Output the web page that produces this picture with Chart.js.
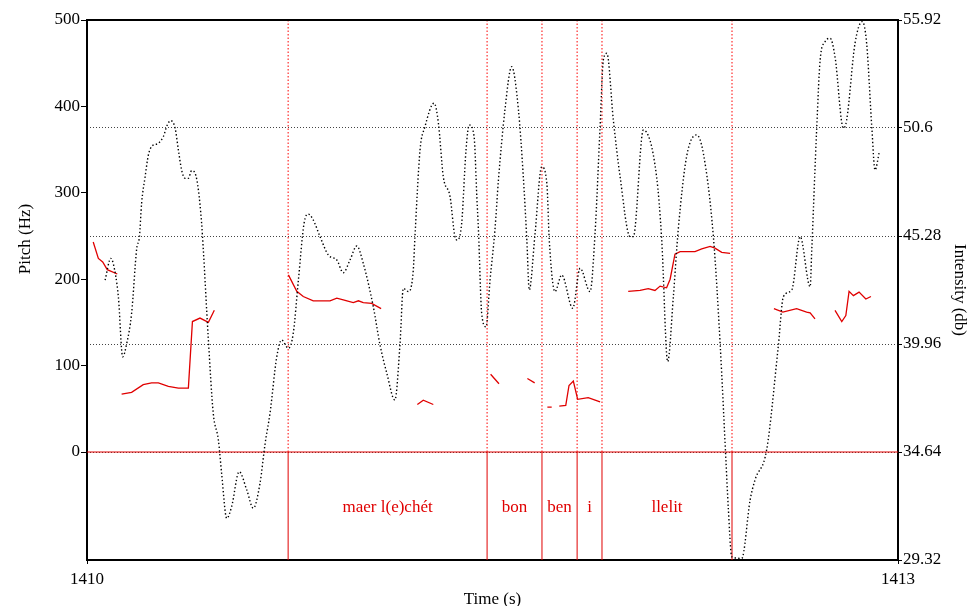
<!DOCTYPE html>
<html><head><meta charset="utf-8">
<script src="https://cdn.jsdelivr.net/npm/chart.js@4"></script>
<style>html,body{margin:0;padding:0;background:#fff}</style>
</head><body>
<canvas id="c" width="968" height="606"></canvas>
<script>
// ---------- data ----------
const timeMin = 1410, timeMax = 1413;
const timeTicks = [1410, 1413];
const pitchMin = -125, pitchMax = 500;
const pitchTicks = [0, 100, 200, 300, 400, 500];
const intensityMin = 29.32, intensityMax = 55.92;
const intensityTicks = [29.32, 34.64, 39.96, 45.28, 50.6, 55.92];

// intensity contour (s, dB)
const intensityTimes = [1410.067,1410.088,1410.097,1410.116,1410.132,1410.147,1410.165,1410.184,1410.194,1410.202,1410.215,1410.227,1410.239,1410.264,1410.282,1410.297,1410.310,1410.326,1410.338,1410.350,1410.363,1410.375,1410.387,1410.400,1410.412,1410.424,1410.430,1410.449,1410.467,1410.486,1410.498,1410.517,1410.535,1410.563,1410.591,1410.615,1410.640,1410.659,1410.677,1410.702,1410.720,1410.745,1410.763,1410.782,1410.803,1410.819,1410.837,1410.862,1410.893,1410.924,1410.948,1410.973,1410.998,1411.022,1411.059,1411.084,1411.109,1411.139,1411.158,1411.170,1411.189,1411.207,1411.213,1411.232,1411.250,1411.284,1411.300,1411.318,1411.343,1411.361,1411.370,1411.386,1411.402,1411.414,1411.432,1411.442,1411.448,1411.460,1411.476,1411.491,1411.509,1411.522,1411.546,1411.571,1411.596,1411.614,1411.627,1411.636,1411.657,1411.682,1411.701,1411.710,1411.731,1411.756,1411.797,1411.824,1411.861,1411.879,1411.898,1411.910,1411.923,1411.947,1411.972,1412.009,1412.021,1412.058,1412.107,1412.126,1412.148,1412.169,1412.187,1412.218,1412.255,1412.280,1412.317,1412.342,1412.364,1412.372,1412.385,1412.422,1412.453,1412.471,1412.514,1412.557,1412.576,1412.607,1412.638,1412.675,1412.681,1412.699,1412.712,1412.730,1412.749,1412.767,1412.798,1412.810,1412.841,1412.868,1412.884,1412.903,1412.915,1412.931];
const intensityDb = [43.11,44.18,43.93,42.29,39.33,39.99,41.47,44.67,45.25,46.89,48.20,49.27,49.68,49.85,50.17,50.75,50.96,50.59,49.52,48.53,48.12,48.12,48.50,48.37,47.55,45.91,44.67,40.16,36.55,35.23,33.59,31.37,31.95,33.67,32.77,31.87,33.10,35.07,36.55,39.33,40.16,39.75,40.49,43.11,45.91,46.36,46.07,45.25,44.34,44.10,43.47,44.10,44.79,43.93,41.80,39.91,38.52,37.20,39.99,42.70,42.54,43.60,45.21,49.52,50.66,51.82,50.83,48.20,47.22,45.25,45.08,45.91,49.52,50.75,50.17,47.22,45.58,41.47,40.81,43.11,45.58,48.04,51.49,53.62,51.49,48.20,45.08,42.62,45.33,48.69,47.88,45.08,42.54,43.36,41.72,43.69,42.54,45.33,50.66,53.95,54.28,50.99,48.20,45.25,45.25,50.50,48.20,45.08,39.09,42.29,45.58,49.19,50.26,49.35,45.25,39.99,34.08,31.95,29.48,29.40,32.28,33.26,34.74,39.83,42.29,42.62,45.25,42.78,44.59,50.50,53.95,54.85,55.02,54.11,50.59,50.99,54.77,55.84,54.77,50.66,48.53,49.43];

// pitch contour (s, Hz); null = unvoiced gap
const pitchTimes = [
 1410.023,1410.042,1410.058,1410.075,1410.112, null,
 1410.128,1410.165,1410.208,1410.239,1410.264,1410.301,1410.338,1410.375,1410.390,1410.418,1410.449,1410.471, null,
 1410.745,1410.776,1410.800,1410.837,1410.899,1410.924,1410.948,1410.985,1411.004,1411.022,1411.053,1411.088, null,
 1411.222,1411.244,1411.281, null,
 1411.493,1411.524, null,
 1411.629,1411.656, null,
 1411.703,1411.719, null,
 1411.747,1411.771,1411.783,1411.799,1411.815,1411.854,1411.898, null,
 1412.002,1412.046,1412.076,1412.101,1412.120,1412.144,1412.157,1412.175,1412.194,1412.249,1412.274,1412.305,1412.323,1412.348,1412.379, null,
 1412.541,1412.574,1412.625,1412.662,1412.675,1412.693, null,
 1412.767,1412.792,1412.807,1412.819,1412.835,1412.856,1412.881,1412.900];
const pitchHz = [
 243,224,220,211,206, null,
 67,69,78,80,80,76,74,74,151,155,150,164, null,
 205,186,180,175,175,178,176,173,175,173,172,166, null,
 55,60,55, null,
 90,79, null,
 85,80, null,
 52,52, null,
 53,54,77,82,61,63,58, null,
 186,187,189,187,192,190,200,229,232,232,235,238,236,231,230, null,
 166,162,166,162,161,154, null,
 164,151,158,186,181,185,177,180];

// text tier
const tierBounds = [1410, 1410.744, 1411.480, 1411.683, 1411.813, 1411.905, 1412.386, 1413];
const tierLabels = ["", "maer l(e)chét", "bon", "ben", "i", "llelit", ""];

// ---------- build ----------
const FONT = '"Liberation Serif", "DejaVu Serif", serif';
Chart.defaults.font.family = FONT;
Chart.defaults.color = '#000';

const intensityData = intensityTimes.map((t, i) => ({x: t, y: intensityDb[i]}));
const pitchData = pitchTimes.map((t, i) => (t === null ? {x: NaN, y: null} : {x: t, y: pitchHz[i]}));
const inner = tierBounds.slice(1, -1);
const dottedBounds = [], solidBounds = [];
inner.forEach(b => {
  dottedBounds.push({x: b, y: 0}, {x: b, y: pitchMax}, {x: b, y: null});
  solidBounds.push({x: b, y: pitchMin}, {x: b, y: 0}, {x: b, y: null});
});
const tierTop = [{x: timeMin, y: 0}, {x: timeMax, y: 0}];

const overlay = {
  id: 'overlay',
  afterDraw(chart) {
    const {ctx, chartArea: a, scales: {x, y}} = chart;
    ctx.save();
    ctx.strokeStyle = '#000'; ctx.lineWidth = 2;
    ctx.beginPath(); ctx.moveTo(a.left - 1, a.top); ctx.lineTo(a.right + 1, a.top); ctx.stroke();
    ctx.fillStyle = '#e00000';
    ctx.font = '17px ' + FONT;
    ctx.textAlign = 'center'; ctx.textBaseline = 'middle';
    const ty = y.getPixelForValue((pitchMin + 0) / 2) + 2;
    tierLabels.forEach((lab, i) => {
      if (!lab) return;
      const cx = (x.getPixelForValue(tierBounds[i]) + x.getPixelForValue(tierBounds[i + 1])) / 2;
      ctx.fillText(lab, cx, ty);
    });
    ctx.fillStyle = '#000';
    ctx.translate(26, y.getPixelForValue(pitchMax / 2) + 3);
    ctx.rotate(-Math.PI / 2);
    ctx.fillText('Pitch (Hz)', 0, 0);
    ctx.restore();
  }
};

new Chart(document.getElementById('c'), {
  type: 'line',
  data: {
    datasets: [
      {data: intensityData, yAxisID: 'y2', borderColor: '#000', borderWidth: 1.4, borderDash: [1.4, 2.3],
       pointRadius: 0, cubicInterpolationMode: 'monotone', fill: false},
      {data: pitchData, yAxisID: 'y', borderColor: '#e00000', borderWidth: 1.3, pointRadius: 0, spanGaps: false, tension: 0},
      {data: dottedBounds, yAxisID: 'y', borderColor: '#ff0000', borderWidth: 1, borderDash: [1.5, 2], pointRadius: 0, spanGaps: false},
      {data: solidBounds, yAxisID: 'y', borderColor: '#e00000', borderWidth: 1, pointRadius: 0, spanGaps: false},
      {data: tierTop, yAxisID: 'y', borderColor: '#e00000', borderWidth: 1, pointRadius: 0}
    ]
  },
  options: {
    responsive: false, animation: false, devicePixelRatio: 1,
    layout: {padding: {top: 20, left: 0, right: 0, bottom: 0}},
    plugins: {legend: {display: false}, tooltip: {enabled: false}},
    scales: {
      x: {
        type: 'linear', min: timeMin, max: timeMax,
        afterBuildTicks: s => { s.ticks = timeTicks.map(v => ({value: v})); },
        ticks: {font: {size: 17}, color: '#000', padding: 5, maxRotation: 0, autoSkip: false, callback: v => String(v)},
        grid: {drawOnChartArea: false, drawTicks: true, tickLength: 4, color: '#000', tickColor: '#000'},
        border: {display: true, color: '#000', width: 2},
        title: {display: true, text: 'Time (s)', color: '#000', font: {size: 17, lineHeight: 1}, padding: {top: 0, bottom: -2}},
        afterFit: s => { s.height = 46; }
      },
      y: {
        type: 'linear', position: 'left', min: pitchMin, max: pitchMax,
        afterBuildTicks: s => { s.ticks = pitchTicks.map(v => ({value: v})); },
        ticks: {font: {size: 17}, color: '#000', padding: 1, autoSkip: false, callback: v => String(v)},
        grid: {drawOnChartArea: false, drawTicks: true, tickLength: 6, color: '#000', tickColor: '#000'},
        border: {display: true, color: '#000', width: 2},
        afterFit: s => { s.width = 87; }
      },
      y2: {
        type: 'linear', position: 'right', min: intensityMin, max: intensityMax,
        afterBuildTicks: s => { s.ticks = intensityTicks.map(v => ({value: v})); },
        ticks: {font: {size: 17}, color: '#000', padding: 1, autoSkip: false, callback: v => String(v)},
        grid: {drawOnChartArea: true, drawTicks: true, tickLength: 4, color: '#444', lineWidth: 1, tickColor: '#000'},
        border: {display: true, color: '#000', width: 2, dash: [1, 2]},
        title: {display: true, text: 'Intensity (db)', color: '#000', font: {size: 17, lineHeight: 1}, padding: {top: 0.5, bottom: 0}},
        afterFit: s => { s.width = 70; }
      }
    }
  },
  plugins: [overlay]
});
</script>
</body></html>
